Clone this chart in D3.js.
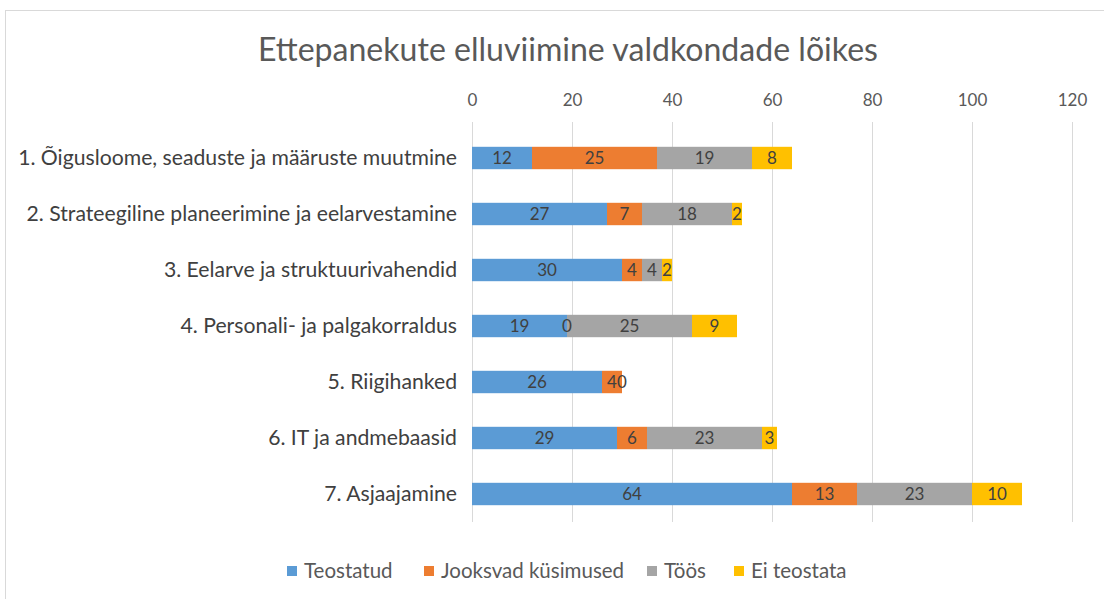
<!DOCTYPE html>
<html><head><meta charset="utf-8">
<script src="https://cdn.jsdelivr.net/npm/d3@7"></script>
<style>body{margin:0;background:#fff}svg{display:block}</style>
</head><body>
<script>
const categories = [
  "1. Õigusloome, seaduste ja määruste muutmine",
  "2. Strateegiline planeerimine ja eelarvestamine",
  "3. Eelarve ja struktuurivahendid",
  "4. Personali- ja palgakorraldus",
  "5. Riigihanked",
  "6. IT ja andmebaasid",
  "7. Asjaajamine"
];
const seriesNames = ["Teostatud", "Jooksvad küsimused", "Töös", "Ei teostata"];
const teostatud = [12, 27, 30, 19, 26, 29, 64];
const jooksvad = [25, 7, 4, 0, 4, 6, 13];
const toos = [19, 18, 4, 25, 0, 23, 23];
const eiTeostata = [8, 2, 2, 9, 0, 3, 10];
const tickValues = [0, 20, 40, 60, 80, 100, 120];
const colors = ["#5B9BD5", "#ED7D31", "#A5A5A5", "#FFC000"];

const W = 1104, H = 599;
const svg = d3.select("body").append("svg").attr("width", W).attr("height", H);
svg.append("rect").attr("x", 5.5).attr("y", 10.5).attr("width", W + 10).attr("height", H + 10)
  .attr("fill", "#fff").attr("stroke", "#d9d9d9");

const font = "Lato, 'Open Sans', sans-serif";
svg.append("text").attr("x", 568).attr("y", 61).attr("text-anchor", "middle")
  .attr("font-family", font).attr("font-size", 32).attr("fill", "#595959")
  .attr("textLength", 620).attr("lengthAdjust", "spacingAndGlyphs")
  .text("Ettepanekute elluviimine valdkondade lõikes");

const x = d3.scaleLinear().domain([0, 120]).range([472, 1072]);
const y = d3.scaleBand().domain(categories).range([130, 522]).paddingInner(0.6).paddingOuter(0.3);

const xAxis = svg.append("g").attr("transform", "translate(0,130)")
  .call(d3.axisTop(x).tickValues(tickValues).tickSize(0).tickPadding(24));
xAxis.select(".domain").remove();
xAxis.selectAll("text").attr("font-family", font).attr("font-size", 17).attr("fill", "#595959");

svg.append("g").selectAll("line").data(tickValues).join("line")
  .attr("x1", d => x(d) + 0.5).attr("x2", d => x(d) + 0.5)
  .attr("y1", 122).attr("y2", 522).attr("stroke", "#d9d9d9");

const yAxis = svg.append("g").attr("transform", "translate(472,0)")
  .call(d3.axisLeft(y).tickSize(0).tickPadding(15));
yAxis.select(".domain").remove();
yAxis.selectAll("text").attr("font-family", font).attr("font-size", 21.2).attr("fill", "#404040");

const table = categories.map((c, i) => ({cat: c, values: [teostatud[i], jooksvad[i], toos[i], eiTeostata[i]]}));
const stack = d3.stack().keys([0, 1, 2, 3]).value((d, k) => d.values[k]);
const layers = stack(table);

const g = svg.append("g");
layers.forEach((layer, k) => {
  g.selectAll(null).data(layer).join("rect")
    .attr("x", d => x(d[0])).attr("width", d => x(d[1]) - x(d[0]))
    .attr("y", d => y(d.data.cat)).attr("height", y.bandwidth())
    .attr("fill", colors[k]);
});
layers.forEach((layer, k) => {
  g.selectAll(null).data(layer.filter(d => !(k === 3 && d.data.values[3] === 0))).join("text")
    .attr("x", d => (x(d[0]) + x(d[1])) / 2)
    .attr("y", d => y(d.data.cat) + y.bandwidth() / 2 + 6)
    .attr("text-anchor", "middle").attr("font-family", font).attr("font-size", 17)
    .attr("fill", "#404040")
    .text(d => d.data.values[k]);
});

const legend = svg.append("g").attr("transform", "translate(287,571)");
const offsets = [0, 137, 360, 447];
seriesNames.forEach((n, i) => {
  const lg = legend.append("g").attr("transform", `translate(${offsets[i]},0)`);
  lg.append("rect").attr("x", 0).attr("y", -5).attr("width", 10).attr("height", 10).attr("fill", colors[i]);
  lg.append("text").attr("x", 17).attr("y", 7).attr("font-family", font).attr("font-size", 20.5)
    .attr("fill", "#595959").text(n);
});
</script>
</body></html>
